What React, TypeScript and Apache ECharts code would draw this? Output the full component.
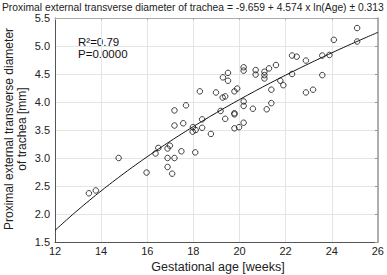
import React, { useEffect, useRef } from "react";
import * as echarts from "echarts";

const ages: number[] = [
  13.47, 13.77, 14.76, 15.97, 16.36, 16.48, 16.88, 16.98, 16.88, 16.88, 17.08, 17.18, 17.48, 17.97, 18.1, 18.08,
  18.76, 17.18, 17.68, 17.18, 17.56, 17.98, 18.38, 18.38, 18.28, 18.98, 25.1, 25.1, 24.09, 23.9, 23.59, 23.59,
  23.19, 22.88, 22.88, 22.28, 22.48, 22.28, 21.58, 21.28, 21.08, 21.08, 21.08, 20.7, 20.7, 20.18, 20.18, 21.77,
  21.9, 21.38, 21.38, 21.18, 20.58, 20.18, 20.18, 19.78, 19.78, 20.18, 19.98, 19.78, 19.38, 19.18, 19.27, 19.38,
  19.28, 19.5, 19.5, 19.78, 19.9,
];
const diameters: number[] = [
  2.37, 2.42, 3.0, 2.74, 3.08, 3.18, 3.17, 3.22, 3.0, 2.84, 2.72, 3.0, 3.12, 3.47, 3.5, 3.1,
  3.43, 3.85, 3.94, 3.58, 3.62, 3.55, 3.69, 3.54, 4.19, 4.17, 5.32, 5.08, 5.11, 4.84, 4.83, 4.48,
  4.22, 4.17, 4.74, 4.83, 4.81, 4.5, 4.66, 4.6, 4.54, 4.48, 4.42, 4.57, 4.49, 4.62, 4.56, 4.38,
  4.3, 4.22, 3.98, 3.87, 3.88, 4.01, 3.93, 3.8, 3.78, 3.63, 3.55, 3.53, 3.7, 3.84, 4.08, 4.1,
  4.44, 4.52, 4.38, 4.19, 4.24,
];

// Regression stated in the chart title: y = a + b * ln(Age)
const fitIntercept = -9.659;
const fitSlope = 4.574;
const fitSE = 0.313;
const curveAges: number[] = [12, 12.5, 13, 13.5, 14, 14.5, 15, 15.5, 16, 16.5, 17, 17.5, 18, 18.5, 19, 19.5, 20, 20.5, 21, 21.5, 22, 22.5, 23, 23.5, 24, 24.5, 25, 25.5, 26];

const xTicks = { min: 12, max: 26, interval: 2 };
const yTicks = { min: 1.5, max: 5.5, interval: 0.5 };

const titleText = `Proximal external transverse diameter of trachea = ${fitIntercept} + ${fitSlope} x ln(Age) ± ${fitSE}`;
const yTitleLines = ["Proximal external transverse diameter", "of trachea [mm]"];
const xTitle = "Gestational age [weeks]";
const statR = "R²=0.79";
const statP = "P=0.0000";

const FONT = "Liberation Sans, Arial, sans-serif";

export default function App() {
  const ref = useRef<HTMLDivElement>(null);
  useEffect(() => {
    if (!ref.current) return;
    const chart = echarts.init(ref.current, null, { renderer: "svg" });
    const points = ages.map((a, i) => [a, diameters[i]]);
    const curve = curveAges.map((a) => [a, fitIntercept + fitSlope * Math.log(a)]);
    const axisLabel = { color: "#222", fontSize: 11, fontFamily: FONT };
    chart.setOption({
      animation: false,
      backgroundColor: "#fff",
      textStyle: { fontFamily: FONT },
      grid: { left: 55, top: 18, width: 326, height: 224, show: false },
      xAxis: [
        {
          type: "value",
          position: "bottom",
          min: xTicks.min,
          max: xTicks.max,
          interval: xTicks.interval,
          axisLine: { show: true, onZero: false, lineStyle: { color: "#555", width: 1 } },
          axisTick: { show: false },
          axisLabel: { ...axisLabel, margin: 3 },
          splitLine: { show: true, lineStyle: { color: "#e4e4e4", width: 1 } },
        },
        {
          type: "value",
          position: "top",
          min: xTicks.min,
          max: xTicks.max,
          interval: xTicks.interval,
          axisLine: { show: true, onZero: false, lineStyle: { color: "#aaa", width: 1 } },
          axisTick: { show: true, inside: true, length: 2, lineStyle: { color: "#aaa" } },
          axisLabel: { show: false },
          splitLine: { show: false },
        },
      ],
      yAxis: [
        {
          type: "value",
          position: "left",
          min: yTicks.min,
          max: yTicks.max,
          interval: yTicks.interval,
          axisLine: { show: true, onZero: false, lineStyle: { color: "#555", width: 1 } },
          axisTick: { show: false },
          axisLabel: { ...axisLabel, margin: 5, formatter: (v: number) => v.toFixed(1) },
          splitLine: { show: true, lineStyle: { color: "#e4e4e4", width: 1 } },
        },
        {
          type: "value",
          position: "right",
          min: yTicks.min,
          max: yTicks.max,
          interval: yTicks.interval,
          axisLine: { show: true, onZero: false, lineStyle: { color: "#999", width: 1.5 } },
          axisTick: { show: true, inside: true, length: 3, lineStyle: { color: "#999" } },
          axisLabel: { show: false },
          splitLine: { show: false },
        },
      ],
      series: [
        {
          type: "line",
          data: curve,
          showSymbol: false,
          smooth: true,
          lineStyle: { color: "#111", width: 1 },
          silent: true,
          z: 2,
        },
        {
          type: "scatter",
          data: points,
          symbol: "circle",
          symbolSize: 5.5,
          itemStyle: { color: "rgba(255,255,255,0)", borderColor: "#111", borderWidth: 1 },
          z: 3,
        },
      ],
      graphic: [
        {
          type: "text",
          x: 2,
          y: 7,
          style: { text: titleText, fontSize: 10.3, fontFamily: FONT, fill: "#222", verticalAlign: "middle" },
        },
        {
          type: "text",
          x: 9,
          y: 129,
          rotation: Math.PI / 2,
          style: { text: yTitleLines[0], fontSize: 12, fontFamily: FONT, fill: "#222", align: "center", verticalAlign: "middle" },
        },
        {
          type: "text",
          x: 22,
          y: 129,
          rotation: Math.PI / 2,
          style: { text: yTitleLines[1], fontSize: 12, fontFamily: FONT, fill: "#222", align: "center", verticalAlign: "middle" },
        },
        {
          type: "text",
          x: 218,
          y: 267,
          style: { text: xTitle, fontSize: 12.5, fontFamily: FONT, fill: "#222", align: "center", verticalAlign: "middle" },
        },
        {
          type: "text",
          x: 78,
          y: 42,
          style: { text: statR, fontSize: 11.5, fontFamily: FONT, fill: "#111", verticalAlign: "middle" },
        },
        {
          type: "text",
          x: 78,
          y: 54,
          style: { text: statP, fontSize: 11.5, fontFamily: FONT, fill: "#111", verticalAlign: "middle" },
        },
      ],
    });
    return () => chart.dispose();
  }, []);
  return <div ref={ref} style={{ position: "absolute", left: 0, top: 0, width: 387, height: 275 }} />;
}
